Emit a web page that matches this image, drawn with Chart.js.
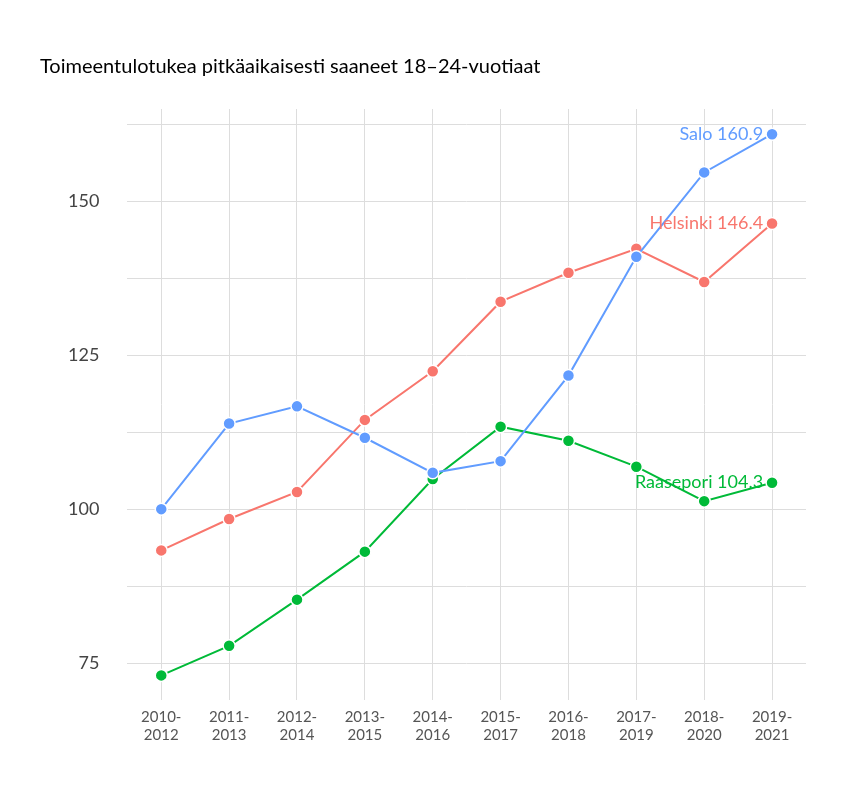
<!DOCTYPE html>
<html>
<head>
<meta charset="utf-8">
<script src="https://cdn.jsdelivr.net/npm/chart.js@4/dist/chart.umd.min.js"></script>
<style>
body { margin: 0; background: #fff; }
</style>
</head>
<body>
<canvas id="myChart" width="864" height="792"></canvas>
<script>
// Periods on the x axis
let periods = [['2010-','2012'],['2011-','2013'],['2012-','2014'],['2013-','2015'],['2014-','2016'],
               ['2015-','2017'],['2016-','2018'],['2017-','2019'],['2018-','2020'],['2019-','2021']];

// Series values
let salo = [100, 113.9, 116.7, 111.6, 105.9, 107.8, 121.7, 141, 154.7, 160.9];
let helsinki = [93.3, 98.4, 102.8, 114.5, 122.4, 133.7, 138.4, 142.3, 136.9, 146.4];
let raasepori = [73, 77.8, 85.3, 93.1, 104.9, 113.4, 111.1, 106.9, 101.3, 104.3];

let labeledTicks = [75, 100, 125, 150];

// Draw "Name value" next to the last point
const endLabels = {
    id: 'endLabels',
    afterDatasetsDraw(chart) {
        const c = chart.ctx;
        c.save();
        c.font = '18px Lato';
        c.textAlign = 'right';
        c.textBaseline = 'middle';
        chart.data.datasets.forEach((ds, i) => {
            const pts = chart.getDatasetMeta(i).data;
            const p = pts[pts.length - 1];
            c.fillStyle = ds.borderColor;
            c.fillText(ds.label + ' ' + ds.data[ds.data.length - 1], p.x - 9, p.y);
        });
        c.restore();
    }
};

function series(label, data, colour) {
    return {
        label: label,
        data: data,
        borderColor: colour,
        backgroundColor: colour,
        pointBorderColor: '#fff',
        pointBorderWidth: 1.5,
        pointRadius: 6,
        borderWidth: 2,
        tension: 0
    };
}

ctx = document.getElementById('myChart').getContext('2d');
myChart = new Chart(ctx, {
    type: 'line',
    data: {
        labels: periods,
        datasets: [
            series('Salo', salo, '#619CFF'),
            series('Helsinki', helsinki, '#F8766D'),
            series('Raasepori', raasepori, '#00BA38')
        ]
    },
    plugins: [endLabels],
    options: {
        responsive: false,
        animation: false,
        devicePixelRatio: 1,
        layout: { padding: { left: 40, right: 58, top: 10, bottom: 40 } },
        plugins: {
            legend: { display: false },
            tooltip: { enabled: false },
            title: {
                display: true,
                text: 'Toimeentulotukea pitkäaikaisesti saaneet 18–24-vuotiaat',
                align: 'start',
                color: '#000',
                font: { family: 'Lato', size: 20, weight: 'normal' },
                padding: { top: 45, bottom: 30 }
            }
        },
        scales: {
            x: {
                offset: true,
                grid: { color: '#dddddd', drawTicks: false, offset: false },
                border: { display: false },
                ticks: { color: '#555', font: { family: 'Lato', size: 15 }, padding: 8, maxRotation: 0 }
            },
            y: {
                min: 69,
                max: 165,
                grid: { color: '#dddddd', drawTicks: false },
                border: { display: false },
                afterBuildTicks(axis) {
                    axis.ticks = [];
                    for (let v = 75; v <= 162.5; v += 12.5) axis.ticks.push({ value: v });
                },
                ticks: {
                    color: '#444',
                    font: { family: 'Lato', size: 18 },
                    padding: 28,
                    callback: v => labeledTicks.includes(v) ? v : ''
                }
            }
        }
    }
});
</script>
</body>
</html>
